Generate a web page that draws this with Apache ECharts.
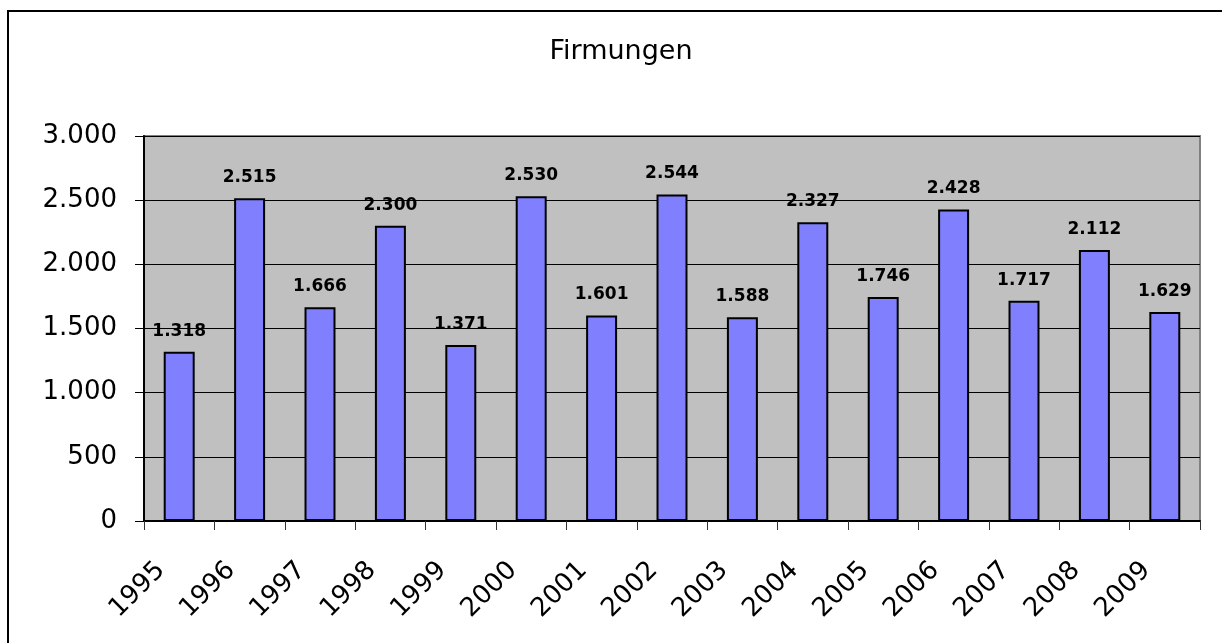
<!DOCTYPE html>
<html>
<head>
<meta charset="utf-8">
<title>Firmungen</title>
<script src="https://cdn.jsdelivr.net/npm/echarts@6/dist/echarts.min.js"></script>
<style>
  html, body { margin: 0; padding: 0; background: #fff; }
  #chart { width: 1222px; height: 643px; }
</style>
</head>
<body>
<div id="chart"></div>
<script>
// Jahre (x-Achse)
const years = ['1995', '1996', '1997', '1998', '1999', '2000', '2001', '2002',
  '2003', '2004', '2005', '2006', '2007', '2008', '2009'];
// Anzahl Firmungen pro Jahr
const firmungen = [1318, 2515, 1666, 2300, 1371, 2530, 1601, 2544,
  1588, 2327, 1746, 2428, 1717, 2112, 1629];

// deutsche Tausendertrennung: 2515 -> 2.515
function fmt(v) {
  return String(Math.round(v)).replace(/\B(?=(\d{3})+(?!\d))/g, '.');
}

const FONT = 'DejaVu Sans, Verdana, sans-serif';

const chart = echarts.init(document.getElementById('chart'));

const option = {
  animation: false,
  backgroundColor: '#ffffff',
  title: {
    text: 'Firmungen',
    left: 616,
    top: 33,
    textAlign: 'center',
    textStyle: {
      fontFamily: FONT,
      fontSize: 27,
      fontWeight: 'normal',
      color: '#000'
    }
  },
  // Rahmen um das Diagramm (nur links/oben sichtbar)
  graphic: [{
    type: 'rect',
    shape: { x: 8, y: 11, width: 3000, height: 3000 },
    style: { fill: 'none', stroke: '#000', lineWidth: 2 },
    silent: true
  }],
  grid: {
    left: 144,
    right: 22,
    top: 136,
    bottom: 122,
    show: true,
    backgroundColor: '#C0C0C0',
    borderColor: '#808080',
    borderWidth: 2
  },
  xAxis: {
    type: 'category',
    data: years,
    axisLine: { lineStyle: { color: '#000', width: 2 } },
    axisTick: { show: true, length: 9, lineStyle: { color: '#333', width: 1 } },
    axisLabel: {
      rotate: 45,
      margin: 27,
      padding: [0, 26, 0, 0],
      fontFamily: FONT,
      fontSize: 26,
      color: '#000'
    }
  },
  yAxis: {
    type: 'value',
    min: 0,
    max: 3000,
    interval: 500,
    axisLine: { show: true, lineStyle: { color: '#000', width: 2 } },
    axisTick: { show: true, length: 9, lineStyle: { color: '#000', width: 1 } },
    splitLine: { show: true, lineStyle: { color: '#000', width: 1 } },
    axisLabel: {
      margin: 27,
      fontFamily: FONT,
      fontSize: 26,
      color: '#000',
      formatter: fmt
    }
  },
  series: [{
    name: 'Firmungen',
    type: 'bar',
    data: firmungen,
    barCategoryGap: '56%',
    itemStyle: {
      color: '#8080FF',
      borderColor: '#000',
      borderWidth: 2
    },
    label: {
      show: true,
      position: 'top',
      distance: 12,
      fontFamily: FONT,
      fontSize: 17,
      fontWeight: 'bold',
      color: '#000',
      formatter: p => fmt(p.value)
    }
  }]
};

chart.setOption(option);
window.addEventListener('resize', () => chart.resize());
</script>
</body>
</html>
